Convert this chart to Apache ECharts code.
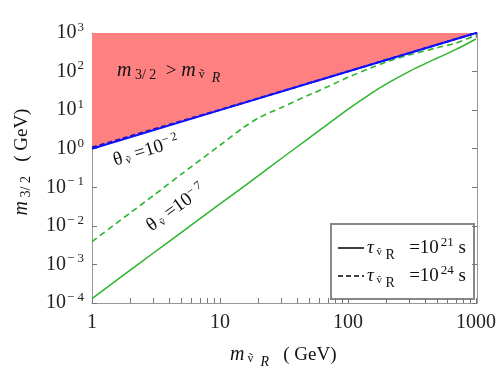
<!DOCTYPE html>
<html>
<head>
<meta charset="utf-8">
<script src="https://cdn.jsdelivr.net/npm/echarts@6/dist/echarts.min.js"></script>
<style>
html, body { margin: 0; padding: 0; background: #fff; }
#chart { width: 501px; height: 382px; }
</style>
</head>
<body>
<div id="chart"></div>
<script>
// axis ticks
var xLabels = [1, 10, 100, 1000]
var xTickMantissa = [1, 2, 3, 4, 5, 6, 7, 8, 9]
var xTickDecades = [1, 10, 100]
var yLabels = [1e-4, 1e-3, 1e-2, 1e-1, 1, 10, 100, 1000]

// m3/2 = m_snu boundary (blue), red region above it
var diagX = [1, 10, 100, 1020]
var diagY = [1, 10, 100, 1020]
var diagDashX = [1, 2, 3, 5, 10, 1020]
var diagDashY = [1.08, 2.13, 3.17, 5.2, 10.2, 1020]

// green, tau = 10^21 s (solid)
var tau21X = [1, 2, 3, 5, 10, 20, 30, 50, 100, 150, 200, 300, 500, 700, 1000]
var tau21Y = [1.3e-4, 7.2e-4, 1.95e-3, 6.8e-3, 0.037, 0.2, 0.55, 1.92, 10.5, 26.5, 48, 100, 225, 375, 700]

// green, tau = 10^24 s (dashed)
var tau24X = [1, 2, 3, 5, 10, 15, 20, 30, 50, 70, 100, 150, 200, 300, 500, 700, 1000]
var tau24Y = [0.0039, 0.022, 0.06, 0.22, 1.23, 3.4, 6.3, 11.6, 25, 41, 71, 123, 178, 269, 417, 550, 871]

var FONT = 'Liberation Serif'
var GRID = { left: 92, top: 33, width: 385, height: 270 }

function zip (xs, ys) {
  return xs.map(function (x, i) { return [x, ys[i]] })
}

var xTicks = []
xTickDecades.forEach(function (d) {
  xTickMantissa.forEach(function (m) { xTicks.push(m * d) })
})
xTicks.push(1000)

function yLabel (v) {
  var e = Math.round(Math.log10(v))
  return '{b|10}{e|' + (e < 0 ? '\u2212 ' + (-e) : e) + '}'
}

var supRich = {
  b: { fontFamily: FONT, fontSize: 20, color: '#222' },
  e: { fontFamily: FONT, fontSize: 13, color: '#222', padding: [0, 0, 11, 1] }
}

var frameLine = { show: true, lineStyle: { color: '#999', width: 1 } }

var myChart = echarts.init(document.getElementById('chart'))
var option = {
  backgroundColor: '#fff',
  animation: false,
  grid: GRID,
  xAxis: [
    {
      type: 'log', logBase: 10, min: 1, max: 1020, position: 'bottom',
      axisLine: frameLine,
      axisTick: { show: true, inside: true, length: 5, customValues: xTicks, lineStyle: { color: '#777' } },
      axisLabel: {
        customValues: xLabels, fontFamily: FONT, fontSize: 20, color: '#222', margin: 10,
        formatter: function (v) { return String(Math.round(v)) }
      },
      splitLine: { show: false }
    },
    {
      type: 'log', logBase: 10, min: 1, max: 1020, position: 'top',
      axisLine: frameLine,
      axisTick: { show: true, inside: true, length: 5, customValues: xTicks, lineStyle: { color: '#777' } },
      axisLabel: { show: false },
      splitLine: { show: false }
    }
  ],
  yAxis: [
    {
      type: 'log', logBase: 10, min: 1e-4, max: 1000, position: 'left',
      axisLine: frameLine,
      axisTick: { show: true, inside: true, length: 5, customValues: yLabels, lineStyle: { color: '#777' } },
      axisLabel: { customValues: yLabels, formatter: yLabel, rich: supRich, margin: 8 },
      splitLine: { show: false }
    },
    {
      type: 'log', logBase: 10, min: 1e-4, max: 1000, position: 'right',
      axisLine: frameLine,
      axisTick: { show: true, inside: true, length: 5, customValues: yLabels, lineStyle: { color: '#777' } },
      axisLabel: { show: false },
      splitLine: { show: false }
    }
  ],
  series: [
    {
      name: 'excluded',
      type: 'line',
      data: zip(diagX, diagY),
      symbol: 'none',
      lineStyle: { width: 0 },
      areaStyle: { color: '#FF8080', opacity: 1, origin: 'end' },
      z: 1
    },
    {
      name: 'diag24',
      type: 'line',
      data: zip(diagDashX, diagDashY),
      symbol: 'none',
      lineStyle: { color: '#1a1aa8', width: 2, type: [5, 3] },
      z: 3
    },
    {
      name: 'diag21',
      type: 'line',
      data: zip(diagX, diagY),
      symbol: 'none',
      lineStyle: { color: '#1010ff', width: 2 },
      z: 4
    },
    {
      name: 'tau24',
      type: 'line',
      data: zip(tau24X, tau24Y),
      symbol: 'none',
      smooth: 0.25,
      lineStyle: { color: '#2db52d', width: 1.6, type: [6, 4] },
      z: 3
    },
    {
      name: 'tau21',
      type: 'line',
      data: zip(tau21X, tau21Y),
      symbol: 'none',
      smooth: 0.25,
      lineStyle: { color: '#2db52d', width: 1.5 },
      z: 3
    }
  ],
  graphic: [
    // region label
    {
      type: 'text', left: 117, top: 61, z: 10,
      style: {
        text: '{m|m}{s| 3/ 2}{n|  > }{m|m}{v| \u1E7D}{r|  R}',
        rich: {
          m: { fontFamily: FONT, fontSize: 20, fontStyle: 'italic', fill: '#111' },
          n: { fontFamily: FONT, fontSize: 19, fill: '#111' },
          s: { fontFamily: FONT, fontSize: 14, fill: '#111', padding: [8, 0, 0, 0] },
          v: { fontFamily: FONT, fontSize: 12, fill: '#111', padding: [8, 0, 0, 0] },
          r: { fontFamily: FONT, fontSize: 14, fontStyle: 'italic', fill: '#111', padding: [14, 0, 0, 0] }
        }
      }
    },
    // theta = 1e-2
    {
      type: 'text', x: 146, y: 151, rotation: 0.3, z: 10,
      style: {
        text: '{t|\u03B8}{v| \u1E7D}{n| =10}{e|\u2212 2}',
        align: 'center', verticalAlign: 'middle',
        rich: {
          t: { fontFamily: FONT, fontSize: 19, fill: '#111' },
          v: { fontFamily: FONT, fontSize: 11, fill: '#111', padding: [8, 0, 0, 0] },
          n: { fontFamily: FONT, fontSize: 19, fill: '#111' },
          e: { fontFamily: FONT, fontSize: 12, fill: '#111', padding: [0, 0, 10, 0] }
        }
      }
    },
    // theta = 1e-7
    {
      type: 'text', x: 176, y: 208, rotation: 0.62, z: 10,
      style: {
        text: '{t|\u03B8}{v| \u1E7D}{n| =10}{e|\u2212 7}',
        align: 'center', verticalAlign: 'middle',
        rich: {
          t: { fontFamily: FONT, fontSize: 19, fill: '#111' },
          v: { fontFamily: FONT, fontSize: 11, fill: '#111', padding: [8, 0, 0, 0] },
          n: { fontFamily: FONT, fontSize: 19, fill: '#111' },
          e: { fontFamily: FONT, fontSize: 12, fill: '#111', padding: [0, 0, 10, 0] }
        }
      }
    },
    // x title
    {
      type: 'text', left: 230, top: 345, z: 10,
      style: {
        text: '{m|m}{v| \u1E7D}{r|  R}{n|   ( GeV)}',
        rich: {
          m: { fontFamily: FONT, fontSize: 20, fontStyle: 'italic', fill: '#111' },
          n: { fontFamily: FONT, fontSize: 19, fill: '#111' },
          v: { fontFamily: FONT, fontSize: 12, fill: '#111', padding: [8, 0, 0, 0] },
          r: { fontFamily: FONT, fontSize: 14, fontStyle: 'italic', fill: '#111', padding: [14, 0, 0, 0] }
        }
      }
    },
    // y title
    {
      type: 'text', x: 22, y: 162, rotation: Math.PI / 2, z: 10,
      style: {
        text: '{m|m}{s| 3/ 2}{n|   ( GeV)}',
        align: 'center', verticalAlign: 'middle',
        rich: {
          m: { fontFamily: FONT, fontSize: 20, fontStyle: 'italic', fill: '#111' },
          n: { fontFamily: FONT, fontSize: 19, fill: '#111' },
          s: { fontFamily: FONT, fontSize: 14, fill: '#111', padding: [8, 0, 0, 0] }
        }
      }
    },
    // legend box
    {
      type: 'group', left: 330, top: 223, z: 20,
      children: [
        {
          type: 'rect', shape: { x: 0, y: 0, width: 143, height: 75 },
          style: { fill: '#fff', stroke: '#888', lineWidth: 2 }
        },
        {
          type: 'line', shape: { x1: 7, y1: 24, x2: 33, y2: 24 },
          style: { stroke: '#000', lineWidth: 1.5 }
        },
        {
          type: 'line', shape: { x1: 7, y1: 52, x2: 33, y2: 52 },
          style: { stroke: '#000', lineWidth: 1.5, lineDash: [5, 3] }
        },
        {
          type: 'text', x: 36, y: 24,
          style: {
            text: '{t|\u03C4}{v| \u1E7D}{r| R}{n|   =10}{e|21}{n| s}',
            verticalAlign: 'middle',
            rich: {
              t: { fontFamily: FONT, fontSize: 19, fontStyle: 'italic', fill: '#111' },
              v: { fontFamily: FONT, fontSize: 11, fill: '#111', padding: [8, 0, 0, 0] },
              r: { fontFamily: FONT, fontSize: 14, fill: '#111', padding: [14, 0, 0, 0] },
              n: { fontFamily: FONT, fontSize: 19, fill: '#111' },
              e: { fontFamily: FONT, fontSize: 13, fill: '#111', padding: [0, 0, 10, 2] }
            }
          }
        },
        {
          type: 'text', x: 36, y: 52,
          style: {
            text: '{t|\u03C4}{v| \u1E7D}{r| R}{n|   =10}{e|24}{n| s}',
            verticalAlign: 'middle',
            rich: {
              t: { fontFamily: FONT, fontSize: 19, fontStyle: 'italic', fill: '#111' },
              v: { fontFamily: FONT, fontSize: 11, fill: '#111', padding: [8, 0, 0, 0] },
              r: { fontFamily: FONT, fontSize: 14, fill: '#111', padding: [14, 0, 0, 0] },
              n: { fontFamily: FONT, fontSize: 19, fill: '#111' },
              e: { fontFamily: FONT, fontSize: 13, fill: '#111', padding: [0, 0, 10, 2] }
            }
          }
        }
      ]
    }
  ]
}
myChart.setOption(option)
</script>
</body>
</html>
